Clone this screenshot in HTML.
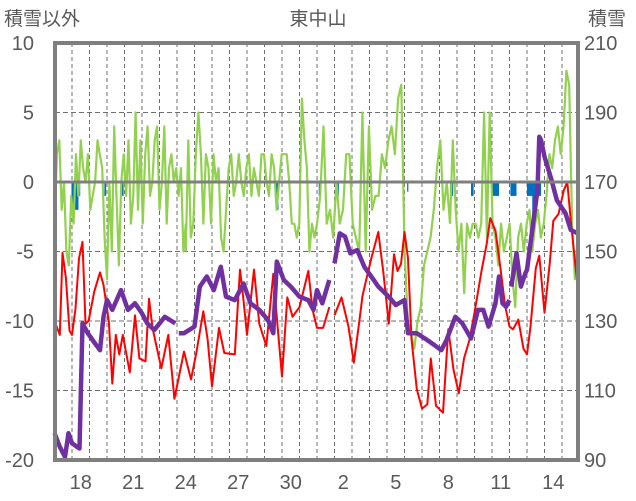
<!DOCTYPE html>
<html><head><meta charset="utf-8">
<style>
body{margin:0;background:#fff;}
svg{display:block;font-family:"Liberation Sans","Noto Sans CJK JP",sans-serif;}
</style></head>
<body>
<svg id="chart" width="636" height="501" viewBox="0 0 636 501">
<rect x="0" y="0" width="636" height="501" fill="#fff"/>
<text x="4" y="25" font-size="19" fill="#595959">積雪以外</text>
<text x="318" y="25" font-size="19" fill="#595959" text-anchor="middle">東中山</text>
<text x="588" y="25" font-size="19" fill="#595959">積雪</text>
<g id="grid"></g>
<g id="bars"></g>
<g id="series"></g>
<g id="frame"></g>
<g id="labels"></g>
</svg>
<script>
// time in days from start of day 17
const dayLabels = ["18","21","24","27","30","2","5","8","11","14"];
const dayLabelT = [1.5,4.5,7.5,10.5,13.5,16.5,19.5,22.5,25.5,28.5];
const leftTicks = [10,5,0,-5,-10,-15,-20];
const rightTicks = [210,190,170,150,130,110,90];

const redT = [0,0.3,0.46,0.65,0.86,1.0,1.2,1.4,1.6,1.77,1.95,2.27,2.6,2.8,3.1,3.3,3.5,3.7,3.9,4.3,4.6,4.85,5.2,5.4,5.6,6.1,6.5,6.85,7.4,7.8,8.1,8.5,8.75,9.0,9.4,9.7,10.3,10.6,10.8,11.0,11.4,11.7,12.1,12.5,12.75,13.0,13.3,13.6,14.0,14.5,14.75,15.0,15.35,15.7];
const redV = [-10,-11,-5.1,-6.9,-10.7,-11,-9.1,-5.5,-4.3,-10.2,-10,-7.9,-6.5,-7.4,-10,-14.5,-11,-12.4,-11,-13.7,-9.6,-12.7,-12.9,-8.4,-10.5,-13.4,-11,-15.6,-12.2,-14.2,-12.3,-9.3,-11.3,-14.7,-10.5,-12.3,-12.4,-6.3,-8.5,-11,-6.3,-10.2,-11.8,-6.6,-10.4,-14,-8.3,-9.7,-9,-6.4,-9.2,-10.5,-10.5,-9];
const redT2 = [16.0,16.4,16.8,17.1,17.4,17.6,17.8,18.1,18.5,18.8,19.1,19.4,19.6,19.8,20.0,20.2,20.4,20.7,21.0,21.3,21.5,21.8,22.2,22.5,22.8,23.1,23.4,23.7,24.0,24.4,24.7,24.9,25.2,25.5,25.75,26.0,26.2,26.5,26.8,27.0,27.2,27.5,27.7,28.0,28.3,28.5,28.8,29.1,29.3,29.5,29.8,29.9];
const redV2 = [-9.6,-8.3,-10.4,-13,-10.2,-8.2,-7.1,-5.5,-3.6,-6.6,-10.2,-5.2,-6.4,-5.9,-3.6,-5.5,-11.3,-14.9,-16.3,-16,-12.7,-16.1,-16.6,-10.6,-13.5,-15.2,-12.7,-11.4,-9.4,-6.4,-4.4,-2.6,-3.5,-6.4,-8.9,-10.4,-10.6,-9.9,-12,-12.4,-10.4,-6.2,-5.3,-9.4,-5.8,-2.8,-2.3,-0.6,0,-2.8,-6.4,-7.5];

const snowT = [0,0.3,0.6,0.8,1.0,1.43,1.6,1.9,2.3,2.6,2.8,3.0,3.3,3.8,4.2,4.6,5.0,5.3,5.7,6.3,6.9];
const snowV = [97.7,93.8,90.9,97.7,94.8,93.3,129.3,126.5,123.6,121.6,131.2,136,133.2,138.9,133.2,135.1,132.2,129.3,127.4,131.2,129.3];
const snowT2 = [7.1,7.4,8.0,8.3,8.7,9.1,9.5,9.8,10.3,10.8,11.2,11.7,12.2,12.5,12.7,13.1,13.5,14.0,14.5,14.8,15.0,15.3,15.7];
const snowV2 = [126.5,126.5,128.4,139.9,142.8,138.9,145.6,137,136,140.8,135.1,133.2,130.3,126.5,147.1,141.8,139.9,137,136,133.2,138.9,135.1,141.8];
const snowT3 = [16.0,16.3,16.6,16.9,17.3,17.7,18.1,18.5,19.1,19.5,20.0,20.2,20.7,21.3,21.7,22.1,22.4,22.9,23.3,23.8,24.2,24.5,24.8,25.2,25.4,25.6,25.8,26.0];
const snowV3 = [146.6,155.2,154.3,149.5,150.4,145.6,142.8,139.9,137,134.6,136,126.5,126.5,124.5,123.1,121.6,124.5,131.2,129.3,125,133.2,133.2,128.4,135.1,142.8,135.1,134.1,136];
const snowT4 = [26.1,26.4,26.65,26.9,27.0,27.4,27.6,27.7,27.8,28.0,28.4,28.7,29.2,29.5,29.9];
const snowV4 = [139.9,149.5,139.9,143.7,144.7,160,167.7,183,182.1,177.3,170.6,164.8,161,156.2,155.2];

const green1 = [-3,2,3,-2,0,-5,-6,-1,-3,2,-1,3,1,0,2,-2,-1,0,3,2,1,-4,-7,0,-5,4,-1,-6,0,2,-1,3,-3,-1,5,-2,3,-3,2,4,-1,0,3,4,-2,0,4,-3,1,2,0,1,-1,1,-5,-3];
const green2 = [-5,3,-4,-3,2,5,2,-3,2,1,-3,2,0,1,-4,-5,-2,1,2,-1,0,2,0,-1,1,2,-1,1,0,-1,2,2,0,-1,2,1,-2,0,2,2,2,0,-3,-3,-4,-3,6,3,1,-5,-3,-4,-3];
const green3 = [-3,-1,4,-3,-2,-4,0,-3,-2,2,2,-3,-4,-5,5,-5,4,-2,-1,-1,2,1,3,4,2,6,7,-5,-10,-11,-12,-10,-9,-6,-5,-4,-2,1,3,-2,0,-3];
const green4 = [-3,3,-2,-5,-3,-8,-3,-4,-3,-3,-4,-3,5,-4,5,-3,-4,-6,-3,-5,-4,-3,-7,-9,-4,-3,-5,-3,-2,-5,-3,-2,-4,-3,-1,2,1,3,4,2,4,8,7,-3,-7,-4];
const greenSpans = [[0,7.5],[7.5,15],[15,22.6],[22.6,29.9]];

const blueStart = [0.97,1.37,2.85,3.48,3.78,4.5,12.65,15.1,16.1,20.15,22.6,23.8,25.0,26.05,27.0,27.3];
const blueEnd   = [1.37,1.47,2.95,3.55,3.95,4.56,12.8,15.16,16.25,20.22,22.78,23.95,25.4,26.4,27.8,27.45];
const blueV     = [-2,-1,-1,-1,-1,-0.7,-2,-1,-1,-0.7,-1,-1,-1,-1,-1,-2.5];

const X0=54.5, DX=17.5, YT=43, YB=460;
function xs(t){return X0+t*DX;}
function yl(v){return YT+(10-v)*(YB-YT)/30;}
function yr(v){return YT+(210-v)*(YB-YT)/120;}
const NS="http://www.w3.org/2000/svg";
function mk(tag,parent,attrs){const e=document.createElementNS(NS,tag);for(const k in attrs)e.setAttribute(k,attrs[k]);parent.appendChild(e);return e;}
const grid=document.getElementById('grid'),bars=document.getElementById('bars'),series=document.getElementById('series'),frame=document.getElementById('frame'),labels=document.getElementById('labels');

for(let d=1;d<30;d++){
  const l=mk('line',grid,{x1:xs(d),x2:xs(d),y1:YT,y2:YB,stroke:'#6f6f6f','stroke-width':1,'stroke-dasharray':'4,3'});
  
  
}
leftTicks.forEach((v,i)=>{
  if(v!==10&&v!==-20&&v!==0){
    const l=mk('line',grid,{x1:55,x2:578,y1:yl(v),y2:yl(v),stroke:'#6f6f6f','stroke-width':1,'stroke-dasharray':'5,3'});
    
    
  }
  const t=mk('text',labels,{x:34,y:yl(v)+7,'font-size':20,fill:'#595959','text-anchor':'end'});
  t.textContent=v;
  
  
});
rightTicks.forEach(v=>{
  const t=mk('text',labels,{x:584,y:yr(v)+7,'font-size':20,fill:'#595959'});
  t.textContent=v;
  
  
});
dayLabels.forEach((s,i)=>{
  const t=mk('text',labels,{x:xs(dayLabelT[i]),y:489,'font-size':20,fill:'#595959','text-anchor':'middle'});
  t.textContent=s;
  
  
});
blueStart.forEach((s,i)=>{
  const r=mk('rect',bars,{x:xs(s),y:yl(0),width:Math.max(1.2,xs(blueEnd[i])-xs(s)),height:yl(blueV[i])-yl(0),fill:'#0070c0'});
  
  
});
function poly(T,V,fy,color,w,name){
  const p=T.map((t,i)=>xs(t).toFixed(1)+','+fy(V[i]).toFixed(1)).join(' ');
  const e=mk('polyline',series,{points:p,fill:'none',stroke:color,'stroke-width':w,'stroke-linejoin':'round'});
  
  
}
[green1,green2,green3,green4].forEach((g,k)=>{
  const [a,b]=greenSpans[k];
  const T=g.map((_,i)=>a+(b-a)*i/(g.length-1));
  poly(T,g,yl,'#92d050',2.2,'green-series');
});
poly(redT,redV,yl,'#ff0000',2,'temperature-line');
poly(redT2,redV2,yl,'#ff0000',2,'temperature-line');
poly(snowT,snowV,yr,'#7030a0',4.5,'snow-depth-line');
poly(snowT2,snowV2,yr,'#7030a0',4.5,'snow-depth-line');
poly(snowT3,snowV3,yr,'#7030a0',4.5,'snow-depth-line');
poly(snowT4,snowV4,yr,'#7030a0',4.5,'snow-depth-line');
const z=mk('line',frame,{x1:55,x2:578,y1:yl(0),y2:yl(0),stroke:'#7f7f7f','stroke-width':3});


const fr=mk('rect',frame,{x:55,y:YT,width:523,height:YB-YT,fill:'none',stroke:'#7f7f7f','stroke-width':4});


</script>
</body></html>
